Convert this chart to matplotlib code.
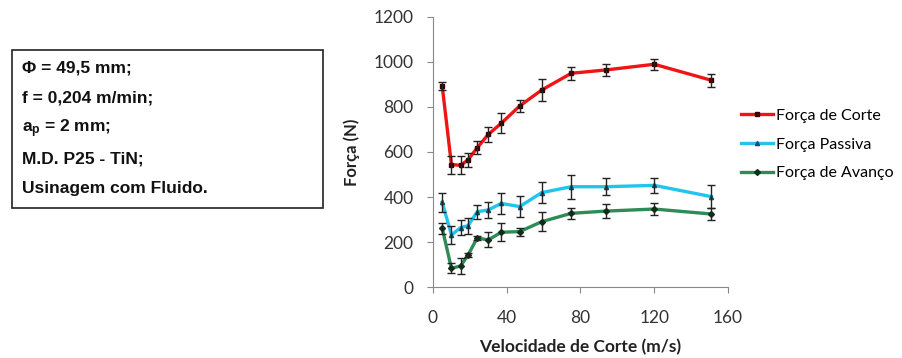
import matplotlib.pyplot as plt

plt.rcParams['font.family'] = ['Lato', 'DejaVu Sans']
plt.rcParams['mathtext.fontset'] = 'custom'
plt.rcParams['mathtext.rm'] = 'Liberation Sans:bold'
plt.rcParams['mathtext.it'] = 'Liberation Sans:bold'

# cutting speed (m/s)
velocidade = [5, 10, 15, 19, 24, 30, 37, 47, 59, 75, 94, 120, 151]

# forces (N) and error bars
corte = [893, 544, 541, 565, 619, 678, 727, 804, 875, 949, 964, 989, 918]
corte_err = [18, 40, 40, 30, 30, 35, 45, 25, 50, 28, 28, 25, 30]

passiva = [377, 232, 265, 273, 335, 343, 372, 358, 420, 446, 446, 452, 402]
passiva_err = [42, 40, 35, 35, 30, 35, 48, 47, 46, 54, 37, 33, 50]

avanco = [262, 84, 95, 143, 219, 210, 244, 247, 291, 328, 338, 347, 325]
avanco_err = [25, 22, 35, 8, 8, 33, 40, 18, 43, 25, 30, 25, 25]

info_lines = ["Φ = 49,5 mm;", "f = 0,204 m/min;", r"a$_{\mathrm{p}}$ = 2 mm;",
              "M.D. P25 - TiN;", "Usinagem com Fluido."]

fig = plt.figure(figsize=(9.03, 3.58), dpi=100)
ax = fig.add_axes([0.4795, 0.1975, 0.3267, 0.7559])

series = [
    (corte, corte_err, '#F01414', 's', 'Força de Corte', '#3a0000'),
    (passiva, passiva_err, '#22C4EE', '^', 'Força Passiva', '#14506a'),
    (avanco, avanco_err, '#2E8B57', 'D', 'Força de Avanço', '#0c3018'),
]
for vals, err, col, mk, lab, mcol in series:
    ax.plot(velocidade, vals, color=col, lw=2.4, marker=mk, ms=3,
            mfc=mcol, mec=mcol, label=lab, zorder=2)
    ax.errorbar(velocidade, vals, yerr=err, fmt='none', ecolor='#222222',
                elinewidth=1, capsize=3, capthick=1, zorder=3)

ax.set_xlim(0, 160)
ax.set_ylim(0, 1200)
ax.set_xticks(range(0, 161, 40))
ax.set_yticks(range(0, 1201, 200))
for s in ['top', 'right']:
    ax.spines[s].set_visible(False)
for s in ['left', 'bottom']:
    ax.spines[s].set_color('#888888')
ax.tick_params(colors='#888888', labelcolor='#333333', labelsize=12.5, length=4)
ax.tick_params(axis='y', pad=10)
ax.tick_params(axis='x', pad=12)
ax.set_xlabel("Velocidade de Corte (m/s)", fontsize=12.5, fontweight='bold',
              color='#222222', labelpad=10)
ax.set_ylabel("Força (N)", fontsize=12, fontweight='bold', color='#222222',
              labelpad=10)

fig.legend(loc='upper left', bbox_to_anchor=(0.805, 0.737), frameon=False,
           fontsize=11.5, handlelength=2.0, handletextpad=0.15, labelspacing=0.92)

# info box
box = plt.Rectangle((12 / 903, 1 - 208 / 358), 311 / 903, 158 / 358,
                    transform=fig.transFigure, fill=False, ec='#222222', lw=1.2)
fig.add_artist(box)
for i, line in enumerate(info_lines):
    fig.text(22 / 903, 1 - (68 + 30.2 * i) / 358, line, family='Liberation Sans',
             fontweight='bold', fontsize=12.5, va='center', color='#111111')

fig.savefig('out.png', dpi=100)
